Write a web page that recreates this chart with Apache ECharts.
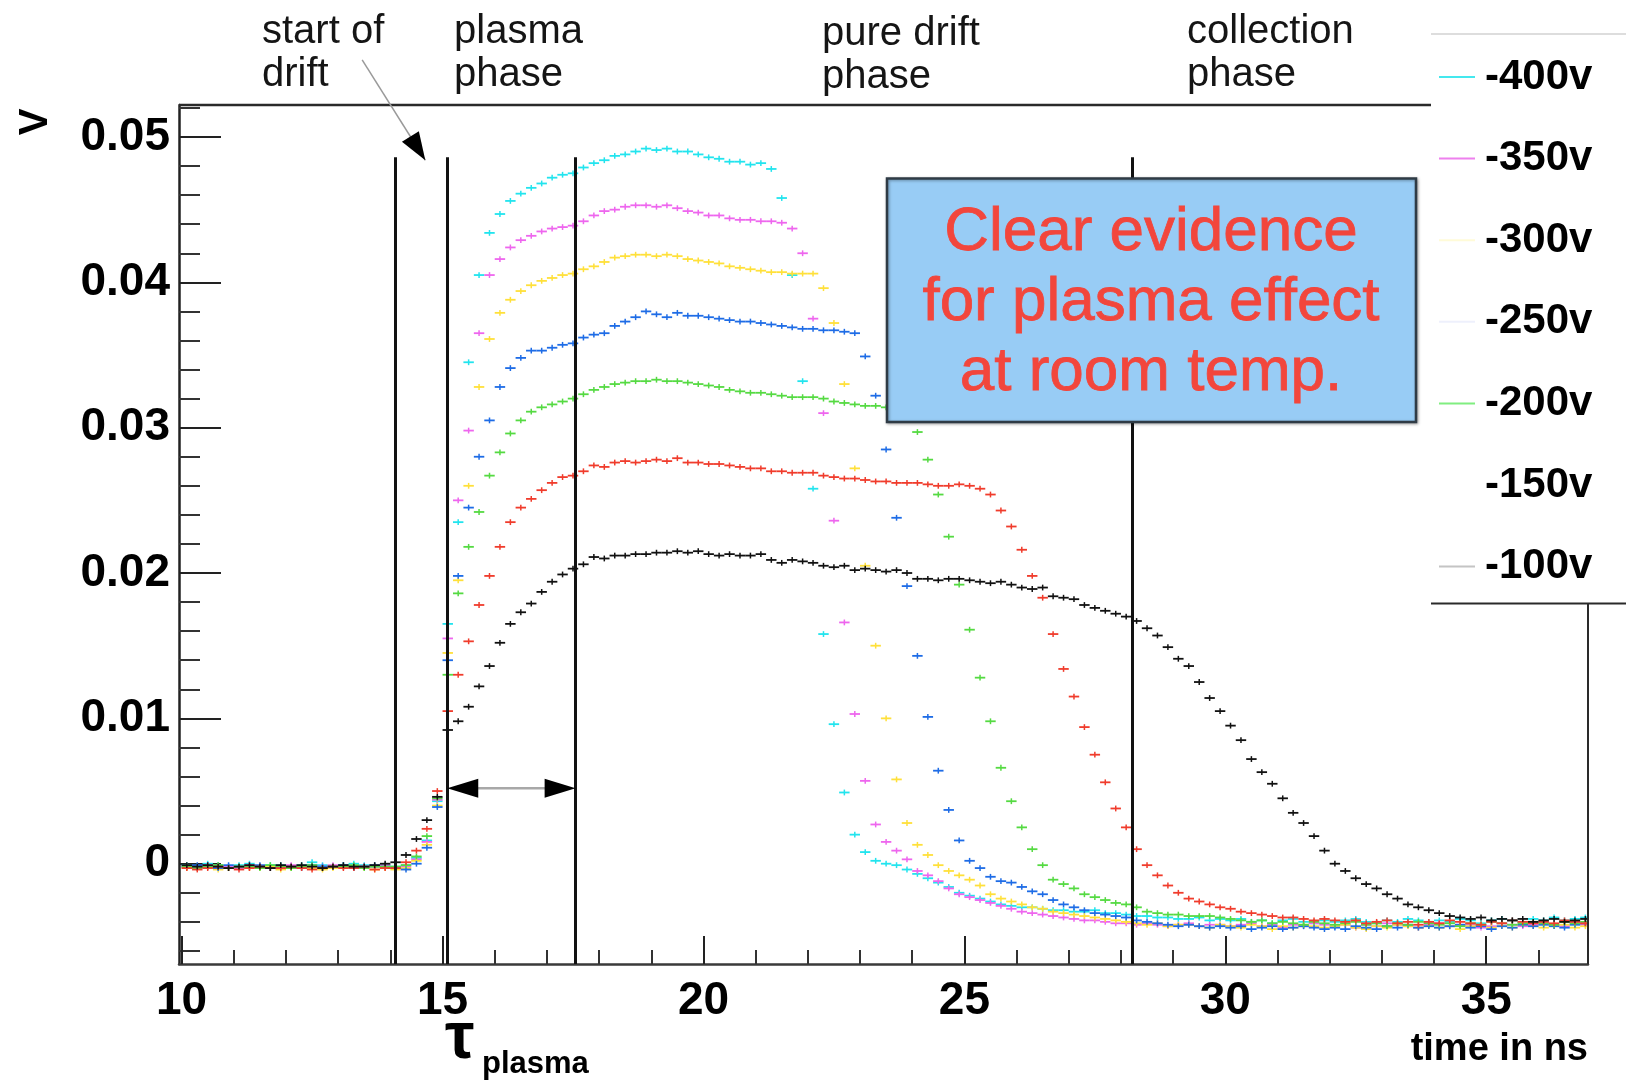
<!DOCTYPE html>
<html>
<head>
<meta charset="utf-8">
<script src="https://cdn.jsdelivr.net/npm/echarts@6/dist/echarts.min.js"></script>
<style>
html,body{margin:0;padding:0;background:#ffffff;}
#chart{width:1626px;height:1085px;}
</style>
</head>
<body>
<div id="chart"></div>
<script>
// ---------------- data (signal in mV, one value per 0.2 ns bin) ----------------
const BIN_FIRST_CENTER = 10.1;   // ns
const BIN_WIDTH = 0.2;           // ns
const SERIES_NAMES = ['-400v', '-350v', '-300v', '-250v', '-200v', '-150v', '-100v'];

const V400 = [
  -0.1,-0.2,0.0,-0.1,-0.2,-0.1,0.0,-0.2,-0.1,-0.1,
  -0.2,-0.1,0.1,-0.1,-0.2,-0.1,0.0,-0.1,-0.2,-0.1,
  -0.2,-0.1,0.4,1.6,4.3,16.5,23.5,34.5,40.5,43.4,
  44.7,45.6,46.1,46.5,46.8,47.2,47.4,47.5,47.9,48.2,
  48.4,48.7,48.8,49.0,49.2,49.1,49.2,49.0,49.0,48.8,
  48.6,48.5,48.3,48.3,48.1,48.2,47.8,45.8,40.5,33.2,
  25.8,15.8,9.6,4.9,2.0,0.8,0.2,0.0,-0.1,-0.4,
  -0.7,-1.0,-1.3,-1.6,-2.0,-2.2,-2.4,-2.6,-2.8,-2.9,
  -3.0,-3.0,-3.1,-3.2,-3.2,-3.3,-3.3,-3.2,-3.4,-3.4,
  -3.5,-3.6,-3.6,-3.7,-3.7,-3.8,-3.8,-3.7,-3.9,-3.8,
  -3.9,-3.8,-4.0,-3.9,-4.1,-3.9,-3.8,-4.0,-4.1,-3.9,
  -4.0,-3.9,-3.8,-4.0,-4.1,-3.9,-4.0,-3.8,-3.9,-4.0,
  -3.9,-4.0,-3.8,-3.9,-4.1,-3.9,-3.8,-3.9,-4.0,-3.8,
  -3.9,-3.7,-3.9,-3.8,-3.7
];
const V350 = [
  -0.2,-0.3,-0.1,-0.2,-0.2,-0.3,-0.1,-0.2,-0.3,-0.2,
  -0.1,-0.2,-0.3,-0.2,-0.1,-0.2,-0.3,-0.2,-0.2,-0.1,
  -0.3,-0.2,0.3,1.5,4.4,15.5,25.0,29.8,36.5,40.5,
  41.6,42.4,42.9,43.2,43.5,43.7,43.8,43.9,44.2,44.6,
  44.9,45.0,45.2,45.3,45.3,45.2,45.3,45.1,44.9,44.8,
  44.6,44.6,44.4,44.3,44.3,44.2,44.2,44.1,43.7,42.0,
  37.5,31.0,23.6,16.6,10.3,5.7,2.7,1.5,0.9,0.3,
  -0.5,-0.8,-1.2,-1.7,-2.1,-2.3,-2.5,-2.7,-2.9,-3.1,
  -3.3,-3.4,-3.5,-3.6,-3.7,-3.8,-3.9,-3.9,-4.0,-4.1,
  -4.1,-4.2,-4.1,-4.2,-4.3,-4.2,-4.1,-4.3,-4.2,-4.2,
  -4.3,-4.2,-4.1,-4.3,-4.2,-4.4,-4.2,-4.3,-4.1,-4.2,
  -4.3,-4.2,-4.4,-4.2,-4.3,-4.1,-4.2,-4.3,-4.4,-4.2,
  -4.1,-4.3,-4.2,-4.2,-4.4,-4.3,-4.1,-4.2,-4.3,-4.2,
  -4.1,-4.2,-4.3,-4.1,-4.2
];
const V300 = [
  -0.3,-0.2,-0.2,-0.4,-0.3,-0.2,-0.3,-0.3,-0.2,-0.4,
  -0.3,-0.2,-0.3,-0.4,-0.3,-0.2,-0.3,-0.3,-0.4,-0.3,
  -0.4,-0.3,0.2,1.3,4.0,14.5,19.5,26.0,32.8,36.1,
  37.9,38.8,39.4,39.8,40.1,40.3,40.5,40.6,40.9,41.1,
  41.4,41.7,41.8,41.9,41.9,41.8,41.9,41.8,41.6,41.5,
  41.4,41.3,41.1,41.0,40.9,40.8,40.7,40.7,40.6,40.6,
  40.6,39.6,37.2,33.0,27.2,20.5,15.0,10.0,5.8,2.8,
  1.3,0.6,-0.1,-0.5,-0.8,-1.1,-1.5,-2.1,-2.4,-2.6,
  -2.8,-3.0,-3.1,-3.3,-3.4,-3.5,-3.6,-3.7,-3.8,-3.9,
  -4.0,-4.1,-4.2,-4.1,-4.3,-4.2,-4.2,-4.3,-4.4,-4.2,
  -4.3,-4.4,-4.2,-4.3,-4.5,-4.3,-4.4,-4.2,-4.3,-4.4,
  -4.3,-4.2,-4.4,-4.5,-4.3,-4.4,-4.2,-4.3,-4.4,-4.3,
  -4.4,-4.3,-4.5,-4.3,-4.2,-4.4,-4.3,-4.4,-4.2,-4.3,
  -4.4,-4.3,-4.2,-4.4,-4.3
];
const V250 = [
  -0.2,-0.1,-0.2,-0.3,-0.1,-0.2,-0.2,-0.1,-0.3,-0.2,
  -0.2,-0.3,-0.1,-0.2,-0.2,-0.1,-0.3,-0.2,-0.1,-0.2,
  -0.3,-0.4,0.0,1.1,3.9,14.0,19.8,24.5,28.0,30.5,
  32.8,34.1,34.8,35.3,35.3,35.5,35.7,35.8,36.2,36.4,
  36.5,37.0,37.3,37.6,38.0,37.8,37.6,37.9,37.7,37.7,
  37.6,37.5,37.4,37.3,37.3,37.2,37.1,37.0,36.9,36.8,
  36.8,36.7,36.7,36.6,36.5,34.9,32.2,28.5,23.8,19.1,
  14.3,10.1,6.4,3.7,1.6,0.2,-0.3,-0.9,-1.2,-1.3,
  -1.6,-1.9,-2.1,-2.5,-2.8,-3.0,-3.2,-3.4,-3.5,-3.6,
  -3.7,-3.9,-4.0,-4.1,-4.2,-4.3,-4.2,-4.3,-4.4,-4.3,
  -4.4,-4.3,-4.5,-4.4,-4.3,-4.5,-4.4,-4.3,-4.4,-4.5,
  -4.4,-4.5,-4.3,-4.4,-4.5,-4.3,-4.4,-4.2,-4.4,-4.3,
  -4.4,-4.3,-4.2,-4.4,-4.3,-4.5,-4.3,-4.4,-4.2,-4.3,
  -4.2,-4.3,-4.4,-4.2,-4.1
];
const V200 = [
  -0.2,-0.3,-0.2,-0.1,-0.3,-0.2,-0.2,-0.3,-0.1,-0.2,
  -0.3,-0.2,-0.1,-0.3,-0.2,-0.2,-0.1,-0.3,-0.2,-0.2,
  -0.2,-0.1,0.5,1.9,4.5,13.0,18.6,21.8,24.2,26.7,
  28.3,29.6,30.5,31.1,31.4,31.6,31.8,32.0,32.3,32.6,
  32.8,33.0,33.1,33.2,33.2,33.3,33.2,33.2,33.1,33.0,
  32.9,32.8,32.6,32.5,32.4,32.4,32.3,32.2,32.1,32.1,
  32.1,32.0,31.8,31.7,31.6,31.5,31.5,31.4,31.2,30.8,
  29.7,27.8,25.4,22.5,19.2,16.1,12.8,9.8,6.6,4.3,
  2.5,1.0,-0.1,-1.1,-1.4,-1.7,-2.1,-2.3,-2.5,-2.7,
  -2.8,-3.0,-3.3,-3.4,-3.5,-3.5,-3.6,-3.6,-3.6,-3.7,
  -3.8,-3.9,-4.0,-3.9,-4.1,-4.0,-4.1,-4.2,-4.0,-4.1,
  -4.2,-4.1,-4.0,-4.2,-4.1,-4.3,-4.1,-4.2,-4.0,-4.1,
  -4.2,-4.1,-4.3,-4.1,-4.2,-4.0,-4.1,-4.2,-4.1,-4.0,
  -4.1,-4.2,-4.0,-4.1,-4.0
];
const V150 = [
  -0.3,-0.4,-0.3,-0.2,-0.3,-0.4,-0.3,-0.2,-0.3,-0.3,
  -0.2,-0.3,-0.4,-0.3,-0.2,-0.3,-0.3,-0.2,-0.4,-0.3,
  -0.3,0.1,0.9,2.4,5.0,10.5,13.0,15.3,17.8,19.8,
  21.8,23.5,24.5,25.1,25.7,26.2,26.6,26.7,27.0,27.4,
  27.3,27.6,27.7,27.6,27.7,27.8,27.7,27.9,27.6,27.6,
  27.5,27.5,27.4,27.3,27.2,27.2,27.0,27.0,26.9,26.9,
  26.9,26.7,26.6,26.5,26.5,26.4,26.3,26.3,26.2,26.2,
  26.2,26.1,26.0,26.0,26.1,26.0,25.8,25.4,24.3,23.2,
  21.6,19.8,18.3,15.8,13.4,11.5,9.4,7.5,5.6,3.8,
  2.5,1.0,-0.1,-0.8,-1.5,-2.0,-2.4,-2.6,-2.8,-3.0,
  -3.1,-3.3,-3.4,-3.5,-3.6,-3.7,-3.7,-3.8,-3.9,-3.8,
  -3.9,-4.0,-3.9,-4.1,-4.0,-3.9,-4.1,-4.0,-4.2,-4.0,
  -4.1,-3.9,-4.0,-4.1,-4.2,-4.0,-4.1,-3.9,-4.0,-4.1,
  -4.0,-4.1,-3.9,-4.0,-4.1
];
const V100 = [
  -0.1,-0.2,-0.1,-0.2,-0.3,-0.2,-0.1,-0.2,-0.3,-0.1,
  -0.2,-0.1,-0.2,-0.3,-0.2,-0.1,-0.2,-0.2,-0.1,0.0,
  0.1,0.6,1.7,3.0,4.6,9.2,9.8,10.8,12.2,13.6,
  15.2,16.5,17.3,17.9,18.7,19.4,19.9,20.3,20.6,21.1,
  21.0,21.2,21.2,21.3,21.3,21.4,21.4,21.5,21.4,21.5,
  21.3,21.2,21.3,21.2,21.2,21.3,20.9,20.7,20.9,20.8,
  20.7,20.5,20.4,20.5,20.2,20.3,20.2,20.1,20.2,20.0,
  19.6,19.6,19.5,19.6,19.6,19.5,19.4,19.3,19.4,19.2,
  19.0,18.9,19.0,18.4,18.3,18.2,17.8,17.6,17.4,17.2,
  17.0,16.7,16.2,15.7,14.9,14.1,13.6,12.5,11.4,10.5,
  9.5,8.5,7.2,6.3,5.5,4.5,3.5,2.8,1.9,0.9,
  0.0,-0.5,-1.0,-1.4,-1.7,-2.1,-2.4,-2.8,-3.0,-3.2,
  -3.4,-3.6,-3.7,-3.8,-3.7,-3.9,-3.8,-3.9,-3.8,-4.0,
  -3.9,-3.8,-4.0,-3.9,-3.8
];

// axis ranges and ticks
const X_MIN = 9.95, X_MAX = 36.95;
const Y_MIN = -0.0069, Y_MAX = 0.0522;
const X_MAJOR = [10, 15, 20, 25, 30, 35];
const X_MINOR = [11, 12, 13, 14, 16, 17, 18, 19, 21, 22, 23, 24, 26, 27, 28, 29, 31, 32, 33, 34, 36];
const Y_MAJOR = [0, 0.01, 0.02, 0.03, 0.04, 0.05];
const Y_MINOR = [-0.006, -0.004, -0.002, 0.002, 0.004, 0.006, 0.008, 0.012, 0.014, 0.016, 0.018,
                 0.022, 0.024, 0.026, 0.028, 0.032, 0.034, 0.036, 0.038, 0.042, 0.044, 0.046, 0.048, 0.052];

// annotation anchors (data coordinates)
const PHASE_LINES = [14.1, 15.09, 17.55, 28.21];
const PHASE_LINE_TOP = 0.0486;
const TAU_ARROW_Y = 0.0052;
const DRIFT_ARROW_FROM = [13.46, 0.0553];
const DRIFT_ARROW_TO = [14.67, 0.0484];
const ERR_BAR = 0.0002;

// ---------------- styles ----------------
const FONT = '"Liberation Sans", Arial, Helvetica, sans-serif';
const MARKER_COLORS = ['#22E4EE', '#EE66EE', '#FFE03A', '#1E6CE6', '#55DA42', '#F03C2C', '#111111'];
const LEGEND_COLORS = ['#44E8EE', '#EE80EE', '#FFFBD8', '#EEF0FC', '#80EE80', 'rgba(0,0,0,0)', '#C4C4C4'];
const SERIES_VALUES = [V400, V350, V300, V250, V200, V150, V100];

const chart = echarts.init(document.getElementById('chart'), null, {renderer: 'canvas'});

function makeRender(color) {
  return function (params, api) {
    const t = api.value(0), v = api.value(1);
    const a = api.coord([t - BIN_WIDTH / 2, v]);
    const b = api.coord([t + BIN_WIDTH / 2, v]);
    const u = api.coord([t, v + ERR_BAR]);
    const d = api.coord([t, v - ERR_BAR]);
    return {
      type: 'group',
      children: [
        {type: 'line', shape: {x1: a[0], y1: a[1], x2: b[0], y2: b[1]}, style: {stroke: color, lineWidth: 1.8}},
        {type: 'line', shape: {x1: u[0], y1: u[1], x2: d[0], y2: d[1]}, style: {stroke: color, lineWidth: 1.5}}
      ]
    };
  };
}

const series = SERIES_NAMES.map((name, k) => ({
  name: name,
  type: 'custom',
  xAxisIndex: 0,
  yAxisIndex: 0,
  clip: true,
  itemStyle: {color: MARKER_COLORS[k]},
  renderItem: makeRender(MARKER_COLORS[k]),
  data: SERIES_VALUES[k].map((mv, i) => [BIN_FIRST_CENTER + i * BIN_WIDTH, mv / 1000]),
  z: 2 + k * 0.01
}));

series.push({
  name: 'phase lines',
  type: 'scatter',
  data: [],
  z: 10,
  markLine: {
    silent: true,
    symbol: ['none', 'none'],
    label: {show: false},
    lineStyle: {color: '#111', width: 3, type: 'solid'},
    data: PHASE_LINES.map(x => [{coord: [x, Y_MIN]}, {coord: [x, PHASE_LINE_TOP]}])
  }
});

const option = {
  animation: false,
  backgroundColor: '#ffffff',
  grid: {left: 179, right: 38, top: 105, bottom: 121, containLabel: false},
  legend: {
    orient: 'vertical',
    left: 1439,
    top: 55,
    padding: 0,
    itemWidth: 36,
    itemHeight: 2,
    itemGap: 37.6,
    selectedMode: false,
    textStyle: {fontFamily: FONT, fontSize: 42, fontWeight: 'bold', color: '#000', lineHeight: 44, padding: [0, 0, 0, 5]},
    data: SERIES_NAMES.map((n, k) => ({name: n, icon: 'rect', itemStyle: {color: LEGEND_COLORS[k], borderWidth: 0}}))
  },
  xAxis: [
    {
      type: 'value', min: X_MIN, max: X_MAX, position: 'bottom', gridIndex: 0,
      name: 'time in ns', nameLocation: 'end', nameGap: 0,
      nameTextStyle: {fontFamily: FONT, fontSize: 38, fontWeight: 'bold', color: '#000', align: 'right', verticalAlign: 'top', padding: [67, 0, 0, 0]},
      axisLine: {show: true, onZero: false, lineStyle: {color: '#3a3a3a', width: 2.5}},
      axisTick: {show: true, inside: true, length: 28, customValues: X_MAJOR, lineStyle: {color: '#222', width: 2}},
      axisLabel: {show: true, customValues: X_MAJOR, margin: 14, fontFamily: FONT, fontSize: 46, fontWeight: 'bold', color: '#000'},
      splitLine: {show: false}
    },
    {
      type: 'value', min: X_MIN, max: X_MAX, position: 'bottom', gridIndex: 0,
      axisLine: {show: false, onZero: false},
      axisTick: {show: true, inside: true, length: 14, customValues: X_MINOR, lineStyle: {color: '#333', width: 2}},
      axisLabel: {show: false},
      splitLine: {show: false}
    }
  ],
  yAxis: [
    {
      type: 'value', min: Y_MIN, max: Y_MAX, position: 'left', gridIndex: 0,
      axisLine: {show: true, onZero: false, lineStyle: {color: '#222', width: 2.5}},
      axisTick: {show: true, inside: true, length: 42, customValues: Y_MAJOR, lineStyle: {color: '#222', width: 2}},
      axisLabel: {show: true, customValues: Y_MAJOR, margin: 9, fontFamily: FONT, fontSize: 46, fontWeight: 'bold', color: '#000',
                  formatter: v => (Math.abs(v) < 1e-9 ? '0' : (+v).toFixed(2))},
      splitLine: {show: false}
    },
    {
      type: 'value', min: Y_MIN, max: Y_MAX, position: 'left', gridIndex: 0,
      axisLine: {show: false, onZero: false},
      axisTick: {show: true, inside: true, length: 21, customValues: Y_MINOR, lineStyle: {color: '#333', width: 2}},
      axisLabel: {show: false},
      splitLine: {show: false}
    }
  ],
  series: series
};

chart.setOption(option);

// ---------------- annotations positioned through the axes ----------------
function px(pt) { return chart.convertToPixel({xAxisIndex: 0, yAxisIndex: 0}, pt); }
function arrowHead(tip, from, len, half) {
  const dx = tip[0] - from[0], dy = tip[1] - from[1];
  const L = Math.hypot(dx, dy);
  const ux = dx / L, uy = dy / L;
  const bx = tip[0] - ux * len, by = tip[1] - uy * len;
  const nx = -uy, ny = ux;
  return [[tip[0], tip[1]], [bx + nx * half, by + ny * half], [bx - nx * half, by - ny * half]];
}

const tl = px([X_MIN, Y_MAX]);
const br = px([X_MAX, Y_MIN]);
const legendLeft = 1431;
const legendBottom = 603.5;

const aL = px([PHASE_LINES[1], TAU_ARROW_Y]);
const aR = px([PHASE_LINES[2], TAU_ARROW_Y]);
const dFrom = px(DRIFT_ARROW_FROM);
const dTo = px(DRIFT_ARROW_TO);

const txt = (x, y, text, font, extra) => Object.assign({
  type: 'text', z: 50, silent: true,
  style: Object.assign({x: x, y: y, text: text, font: font, fill: '#151515', textVerticalAlign: 'top', lineHeight: 43}, extra || {})
});

const graphics = [
  // frame: top border up to the legend, right border below the legend
  {type: 'line', z: 40, silent: true, shape: {x1: tl[0], y1: tl[1], x2: legendLeft, y2: tl[1]}, style: {stroke: '#2a2a2a', lineWidth: 2.5}},
  {type: 'line', z: 40, silent: true, shape: {x1: br[0], y1: legendBottom, x2: br[0], y2: br[1]}, style: {stroke: '#2a2a2a', lineWidth: 2}},
  // legend box top and bottom
  {type: 'line', z: 40, silent: true, shape: {x1: legendLeft, y1: 34, x2: 1626, y2: 34}, style: {stroke: '#dddddd', lineWidth: 2}},
  {type: 'line', z: 40, silent: true, shape: {x1: legendLeft, y1: legendBottom, x2: 1626, y2: legendBottom}, style: {stroke: '#2a2a2a', lineWidth: 2}},
  // phase labels
  txt(262, 10, 'start of\ndrift', '40px ' + FONT),
  txt(454, 10, 'plasma\nphase', '40px ' + FONT),
  txt(822, 12, 'pure drift\nphase', '40px ' + FONT),
  txt(1187, 10, 'collection\nphase', '40px ' + FONT),
  // y-axis unit
  {type: 'text', z: 50, silent: true, x: 36, y: 122, rotation: Math.PI / 2,
   style: {x: 0, y: 0, text: 'V', font: 'bold 40px ' + FONT, fill: '#000', textAlign: 'center', textVerticalAlign: 'middle'}},
  // tau plasma
  {type: 'text', z: 50, silent: true, style: {x: 445, y: 1040, text: 'τ', font: 'bold 66px ' + FONT, fill: '#000', textVerticalAlign: 'middle'}},
  {type: 'text', z: 50, silent: true, style: {x: 482, y: 1064, text: 'plasma', font: 'bold 31px ' + FONT, fill: '#000', textVerticalAlign: 'middle'}},
  // start-of-drift arrow
  {type: 'line', z: 45, silent: true, shape: {x1: dFrom[0], y1: dFrom[1], x2: dTo[0], y2: dTo[1]}, style: {stroke: '#9a9a9a', lineWidth: 1.5}},
  {type: 'polygon', z: 46, silent: true, shape: {points: arrowHead(dTo, dFrom, 28, 10)}, style: {fill: '#000'}},
  // tau double arrow
  {type: 'line', z: 45, silent: true, shape: {x1: aL[0] + 20, y1: aL[1], x2: aR[0] - 20, y2: aR[1]}, style: {stroke: '#a8a8a8', lineWidth: 2.5}},
  {type: 'polygon', z: 46, silent: true, shape: {points: arrowHead(aL, aR, 31, 9.5)}, style: {fill: '#000'}},
  {type: 'polygon', z: 46, silent: true, shape: {points: arrowHead(aR, aL, 31, 9.5)}, style: {fill: '#000'}},
  // evidence box
  {type: 'rect', z: 60, silent: true, shape: {x: 887, y: 178.5, width: 529, height: 243.5},
   style: {fill: '#98CCF5', stroke: '#2f3b45', lineWidth: 2.5, shadowBlur: 3, shadowColor: 'rgba(0,0,0,0.35)', shadowOffsetX: 1, shadowOffsetY: 1}},
  {type: 'text', z: 61, silent: true,
   style: {x: 1151, y: 303, text: 'Clear evidence\nfor plasma effect\nat room temp.', font: '62px ' + FONT, fill: '#F2463C',
           stroke: '#F2463C', lineWidth: 0.8,
           textAlign: 'center', textVerticalAlign: 'middle', lineHeight: 70}}
];

chart.setOption({graphic: graphics});
</script>
</body>
</html>
